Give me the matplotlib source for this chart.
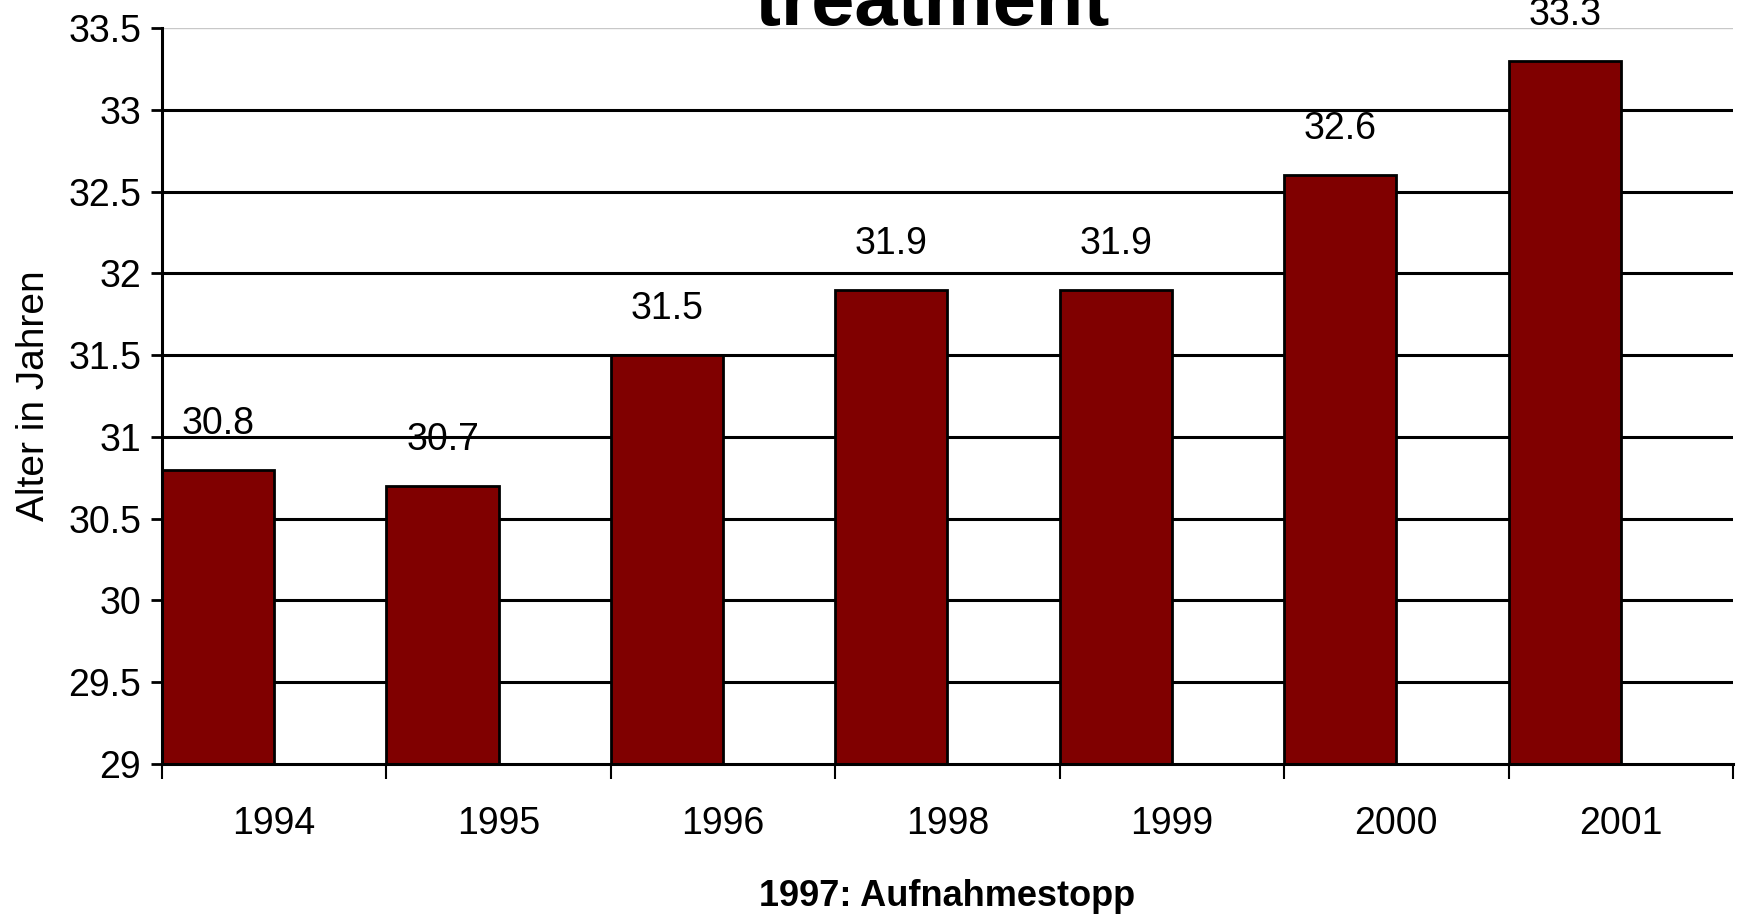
import numpy as np
import matplotlib.pyplot as plt
import matplotlib.font_manager as fm

# data
years = ['1994', '1995', '1996', '1998', '1999', '2000', '2001']
age = [30.8, 30.7, 31.5, 31.9, 31.9, 32.6, 33.3]
y_ticks = [29, 29.5, 30, 30.5, 31, 31.5, 32, 32.5, 33, 33.5]

names = {f.name for f in fm.fontManager.ttflist}
font = 'Liberation Sans Narrow' if 'Liberation Sans Narrow' in names else 'Liberation Sans'
plt.rcParams['font.family'] = [font, 'DejaVu Sans']

fig = plt.figure(figsize=(17.42, 9.16), dpi=100)
ax = fig.add_axes([0.093, 0.166, 0.9018, 0.8034])

x = np.arange(len(years))
ax.set_xlim(0, len(years))
ax.set_ylim(29, 33.5)

# black gridlines behind the bars
for t in y_ticks[1:-1]:
    ax.axhline(t, color='black', lw=2.2, zorder=1)
ax.axhline(33.5, color='#c8c8c8', lw=1, zorder=1)

ax.bar(x, np.array(age) - 29, bottom=29, width=0.5, align='edge',
       color='#800000', edgecolor='black', linewidth=2, zorder=2)

for xi, v in zip(x, age):
    ax.annotate(f'{v}', (xi + 0.25, v), xytext=(0, 33), textcoords='offset points',
                ha='center', va='center', fontsize=27, zorder=3, annotation_clip=False)

ax.set_yticks(y_ticks)
ax.set_yticklabels([f'{t:g}' for t in y_ticks])
ax.set_xticks(np.arange(len(years) + 1))
ax.set_xticklabels([])
ax.set_xticks(x + 0.5, minor=True)
ax.set_xticklabels(years, minor=True)
ax.tick_params(axis='x', which='major', length=11, width=1.5, direction='out')
ax.tick_params(axis='x', which='minor', length=0, pad=30, labelsize=27)
ax.tick_params(axis='y', length=8, width=2, pad=7, labelsize=27)

for s in ['top', 'right']:
    ax.spines[s].set_visible(False)
for s in ['left', 'bottom']:
    ax.spines[s].set_linewidth(2.2)
    ax.spines[s].set_zorder(4)

ax.set_ylabel('Alter in Jahren', fontsize=28, labelpad=12)
ax.set_xlabel('1997: Aufnahmestopp', fontsize=26, fontweight='bold', labelpad=27)

# title only partly visible, cut at the top edge as in the source
fig.text(0.535, 0.973, 'treatment', ha='center', va='baseline',
         fontsize=56, fontweight='bold')

fig.savefig('out.png', dpi=100)
